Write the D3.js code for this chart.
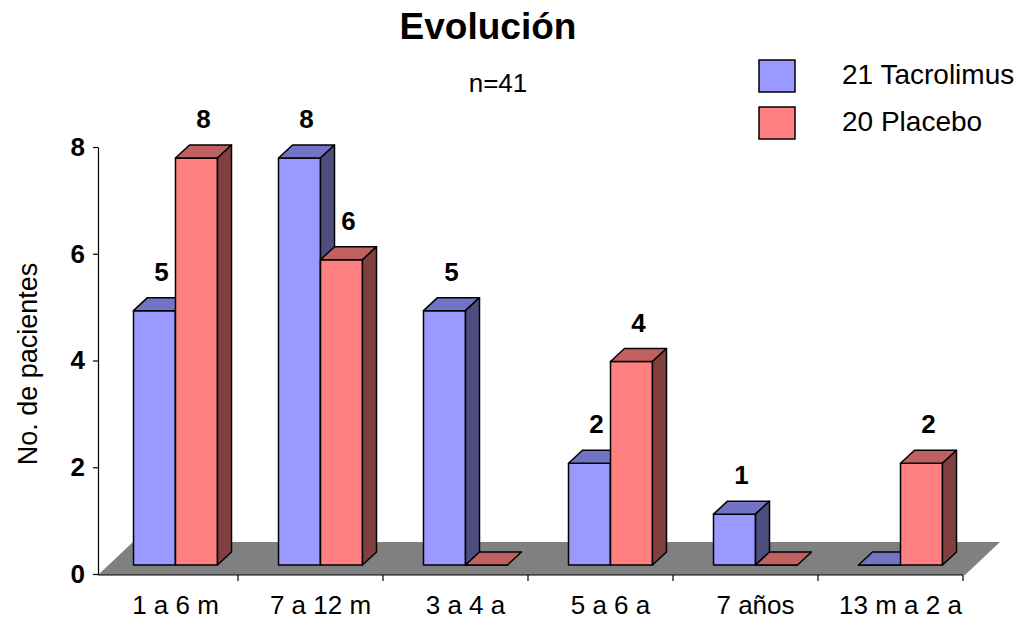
<!DOCTYPE html>
<html>
<head>
<meta charset="utf-8">
<script src="https://cdn.jsdelivr.net/npm/d3@7"></script>
<style>
  body { margin: 0; background: #fff; }
  svg { font-family: "Liberation Sans", Arial, sans-serif; }
</style>
</head>
<body>
<div id="chart"></div>
<script>
// Data
const categories = ["1 a 6 m", "7 a 12 m", "3 a 4 a", "5 a 6 a", "7 años", "13 m a 2 a"];
const tacrolimus = [5, 8, 5, 2, 1, 0];
const placebo = [8, 6, 0, 4, 0, 2];
const seriesNames = ["21 Tacrolimus", "20 Placebo"];
const yTicks = [0, 2, 4, 6, 8];

const width = 1024, height = 619;
const colors = [
    { front: "#9999FF", top: "#7373C6", side: "#4D4D80" },
    { front: "#FF8080", top: "#C06060", side: "#804040" }
];

const svg = d3.select("#chart")
    .append("svg")
    .attr("width", width)
    .attr("height", height);

// Scales: front axis plane, and the bar plane (mid depth)
const x = d3.scaleBand().domain(categories).range([93, 963]);
const xSub = d3.scaleBand().domain([0, 1]).range([0, 84]);
const yAxis = d3.scaleLinear().domain([0, 8]).range([574, 147]);
const yBar = d3.scaleLinear().domain([0, 8]).range([565, 158]);

const barShift = 10;           // bars sit a bit back from the front axis
const dx = 14, dy = -13;       // bar depth
const floorDx = 35, floorDy = -33;

const pairCenter = c => x(c) + x.step() / 2 + barShift;

// Floor
const fx0 = 98, fx1 = 965, fy = 575;
svg.append("polygon")
    .attr("points", [[fx0, fy], [fx1, fy], [fx1 + floorDx, fy + floorDy], [fx0 + floorDx, fy + floorDy]].join(" "))
    .attr("fill", "#808080");

// Bars
const data = categories.map((c, i) => ({ cat: c, values: [tacrolimus[i], placebo[i]] }));

data.forEach(d => {
    d.values.forEach((v, s) => {
        const x0 = pairCenter(d.cat) - 42 + xSub(s);
        const x1 = x0 + xSub.bandwidth();
        const y0 = yBar(0), y1 = yBar(v);
        const g = svg.append("g")
            .attr("stroke", "#000")
            .attr("stroke-width", 1.5)
            .attr("stroke-linejoin", "round");
        // front
        g.append("polygon")
            .attr("points", [[x0, y0], [x1, y0], [x1, y1], [x0, y1]].join(" "))
            .attr("fill", colors[s].front);
        // top
        g.append("polygon")
            .attr("points", [[x0, y1], [x1, y1], [x1 + dx, y1 + dy], [x0 + dx, y1 + dy]].join(" "))
            .attr("fill", colors[s].top);
        // side
        if (v > 0) {
            g.append("polygon")
                .attr("points", [[x1, y0], [x1 + dx, y0 + dy], [x1 + dx, y1 + dy], [x1, y1]].join(" "))
                .attr("fill", colors[s].side);
        }
        // value label
        if (v > 0) {
            svg.append("text")
                .attr("x", (x0 + x1) / 2 + dx / 2)
                .attr("y", y1 + dy - 17)
                .attr("text-anchor", "middle")
                .attr("font-size", 26)
                .attr("font-weight", "bold")
                .text(v);
        }
    });
});

// X axis line with ticks at category boundaries
svg.append("line")
    .attr("x1", fx0).attr("x2", x.range()[1])
    .attr("y1", fy).attr("y2", fy)
    .attr("stroke", "#000").attr("stroke-width", 1.2);

svg.selectAll(".xtick")
    .data(categories)
    .enter()
    .append("line")
    .attr("x1", c => x(c) + x.step())
    .attr("x2", c => x(c) + x.step())
    .attr("y1", fy).attr("y2", fy + 6)
    .attr("stroke", "#000").attr("stroke-width", 1.2);

svg.selectAll(".xlabel")
    .data(categories)
    .enter()
    .append("text")
    .attr("x", c => pairCenter(c))
    .attr("y", 614)
    .attr("text-anchor", "middle")
    .attr("font-size", 26)
    .text(c => c);

// Y axis
const yAxisG = svg.append("g")
    .attr("transform", "translate(98,0)")
    .call(d3.axisLeft(yAxis).tickValues(yTicks).tickSize(5).tickSizeOuter(0).tickPadding(8));
yAxisG.select(".domain").attr("stroke", "#000").attr("stroke-width", 1.2);
yAxisG.selectAll(".tick line").attr("stroke", "#000").attr("stroke-width", 1.2);
yAxisG.selectAll(".tick text")
    .attr("font-size", 26)
    .attr("font-weight", "bold")
    .attr("font-family", "Liberation Sans, Arial, sans-serif")
    .attr("fill", "#000");

svg.append("text")
    .attr("transform", "translate(37,364) rotate(-90)")
    .attr("text-anchor", "middle")
    .attr("font-size", 27)
    .text("No. de pacientes");

// Title and subtitle
svg.append("text")
    .attr("x", 488).attr("y", 39)
    .attr("text-anchor", "middle")
    .attr("font-size", 37)
    .attr("font-weight", "bold")
    .text("Evolución");

svg.append("text")
    .attr("x", 498).attr("y", 92)
    .attr("text-anchor", "middle")
    .attr("font-size", 26)
    .text("n=41");

// Legend
const legend = svg.selectAll(".legend")
    .data(seriesNames)
    .enter()
    .append("g")
    .attr("transform", (d, i) => `translate(759,${60 + i * 47})`);

legend.append("rect")
    .attr("width", 36).attr("height", 32)
    .attr("fill", (d, i) => colors[i].front)
    .attr("stroke", "#000").attr("stroke-width", 1.5);

legend.append("text")
    .attr("x", 83).attr("y", 24)
    .attr("font-size", 28)
    .text(d => d);
</script>
</body>
</html>
